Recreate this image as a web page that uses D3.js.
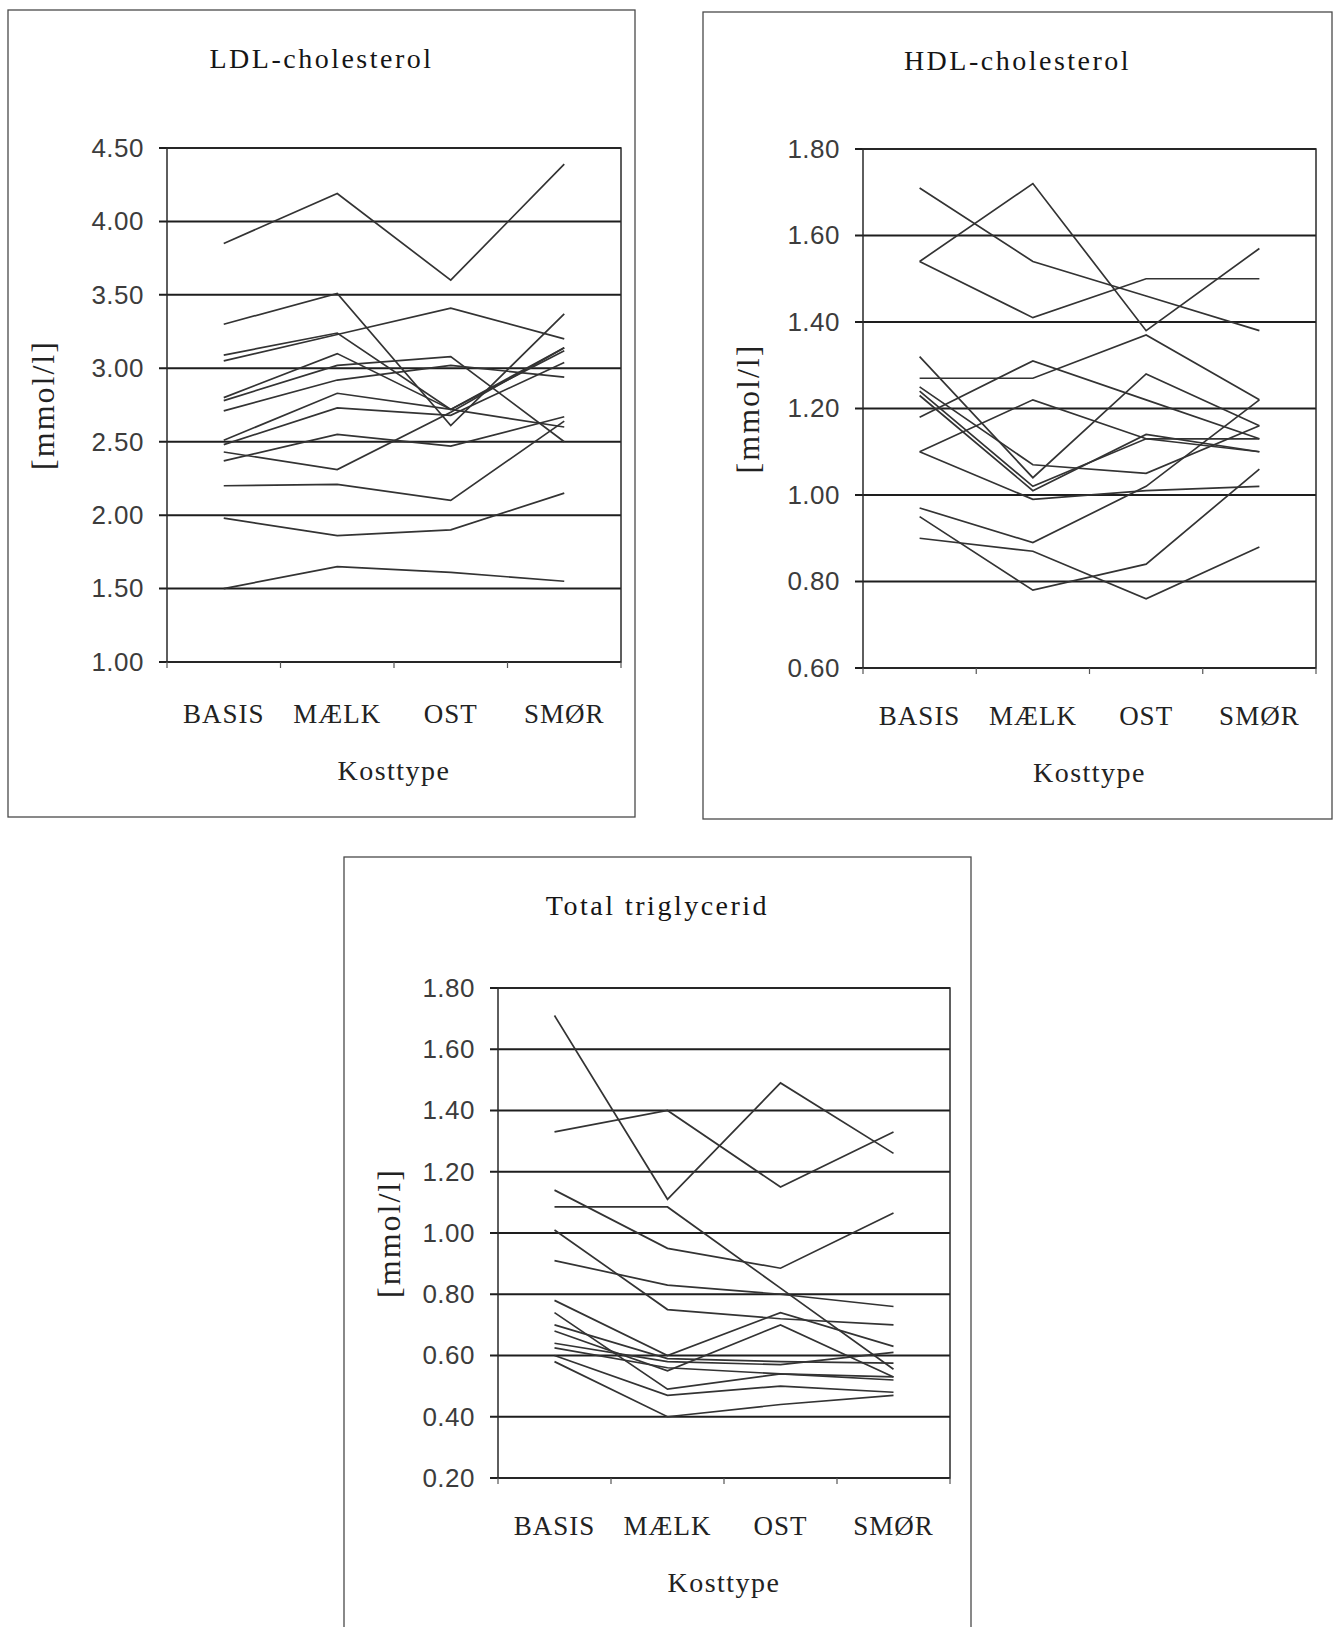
<!DOCTYPE html>
<html>
<head>
<meta charset="utf-8">
<script src="https://cdn.jsdelivr.net/npm/d3@7"></script>
<style>
  html, body { margin: 0; padding: 0; background: #fff; }
  svg { display: block; }
</style>
</head>
<body>
<svg id="chart" width="1334" height="1627"></svg>
<script>
// Diet periods (x categories)
const categories = ["BASIS", "MÆLK", "OST", "SMØR"];

// LDL-cholesterol per subject [mmol/l]
const ldlSeries = [
  [3.85, 4.19, 3.60, 4.39],
  [3.30, 3.51, 2.61, 3.37],
  [3.05, 3.23, 3.41, 3.20],
  [3.09, 3.24, 2.72, 3.14],
  [2.80, 3.10, 2.72, 3.12],
  [2.78, 3.02, 3.08, 2.50],
  [2.71, 2.92, 3.02, 2.94],
  [2.51, 2.83, 2.72, 2.60],
  [2.48, 2.73, 2.68, 3.04],
  [2.43, 2.31, 2.70, 3.14],
  [2.37, 2.55, 2.47, 2.67],
  [2.20, 2.21, 2.10, 2.64],
  [1.98, 1.86, 1.90, 2.15],
  [1.50, 1.65, 1.61, 1.55]
];
const ldlTicks = [1.00, 1.50, 2.00, 2.50, 3.00, 3.50, 4.00, 4.50];

// HDL-cholesterol per subject [mmol/l]
const hdlSeries = [
  [1.71, 1.54, 1.46, 1.38],
  [1.54, 1.72, 1.38, 1.57],
  [1.54, 1.41, 1.50, 1.50],
  [1.27, 1.27, 1.37, 1.22],
  [1.18, 1.31, 1.22, 1.13],
  [1.10, 1.22, 1.13, 1.10],
  [1.10, 0.99, 1.01, 1.02],
  [1.32, 1.04, 1.28, 1.16],
  [0.97, 0.89, 1.02, 1.22],
  [0.95, 0.78, 0.84, 1.06],
  [0.90, 0.87, 0.76, 0.88],
  [1.25, 1.07, 1.05, 1.16],
  [1.24, 1.02, 1.13, 1.13],
  [1.23, 1.01, 1.14, 1.10]
];
const hdlTicks = [0.60, 0.80, 1.00, 1.20, 1.40, 1.60, 1.80];

// Total triglycerid per subject [mmol/l]
const tgSeries = [
  [1.71, 1.11, 1.49, 1.26],
  [1.33, 1.40, 1.15, 1.33],
  [1.14, 0.95, 0.885, 1.065],
  [1.085, 1.085, 0.82, 0.555],
  [1.01, 0.75, 0.72, 0.70],
  [0.91, 0.83, 0.80, 0.76],
  [0.78, 0.60, 0.74, 0.63],
  [0.74, 0.49, 0.54, 0.52],
  [0.70, 0.59, 0.58, 0.575],
  [0.68, 0.55, 0.70, 0.53],
  [0.64, 0.58, 0.57, 0.61],
  [0.625, 0.56, 0.54, 0.53],
  [0.60, 0.47, 0.50, 0.48],
  [0.58, 0.40, 0.44, 0.47]
];
const tgTicks = [0.20, 0.40, 0.60, 0.80, 1.00, 1.20, 1.40, 1.60, 1.80];

const titles = ["LDL-cholesterol", "HDL-cholesterol", "Total triglycerid"];
const yLabel = "[mmol/l]";
const xLabel = "Kosttype";

const SERIF = "'Liberation Serif', 'Times New Roman', serif";
const SANS = "'Liberation Sans', Arial, sans-serif";

const svg = d3.select("#chart");

const panels = [
  { title: titles[0], series: ldlSeries, ticks: ldlTicks,
    frame: { x0: 8, y0: 10, x1: 635, y1: 817 },
    plot: { x0: 167, y0: 148, x1: 621, y1: 662 }, yLabelOffset: 113, catDy: 4 },
  { title: titles[1], series: hdlSeries, ticks: hdlTicks,
    frame: { x0: 703, y0: 12, x1: 1332, y1: 819 },
    plot: { x0: 863, y0: 149, x1: 1316, y1: 668 }, yLabelOffset: 104, catDy: 0 },
  { title: titles[2], series: tgSeries, ticks: tgTicks,
    frame: { x0: 344, y0: 857, x1: 971, y1: 1660 },
    plot: { x0: 498, y0: 988, x1: 950, y1: 1478 }, yLabelOffset: 98, catDy: 0 }
];

panels.forEach(drawPanel);

function drawPanel(p) {
  const g = svg.append("g");
  const f = p.frame, a = p.plot;

  // outer frame
  g.append("rect")
    .attr("x", f.x0).attr("y", f.y0)
    .attr("width", f.x1 - f.x0).attr("height", f.y1 - f.y0)
    .attr("fill", "none").attr("stroke", "#4a4a4a").attr("stroke-width", 1.3);

  // title
  g.append("text")
    .attr("x", (f.x0 + f.x1) / 2).attr("y", f.y0 + 58)
    .attr("text-anchor", "middle")
    .style("font-family", SERIF).style("font-size", "28px")
    .style("letter-spacing", "2.5px").attr("fill", "#151515")
    .text(p.title);

  const x = d3.scaleBand().domain(categories).range([a.x0, a.x1]);
  const y = d3.scaleLinear().domain(d3.extent(p.ticks)).range([a.y1, a.y0]);
  const cx = c => x(c) + x.bandwidth() / 2;

  // horizontal gridlines (extend left as tick marks)
  g.append("g").selectAll("line")
    .data(p.ticks)
    .join("line")
    .attr("x1", a.x0 - 8).attr("x2", a.x1)
    .attr("y1", d => y(d)).attr("y2", d => y(d))
    .attr("stroke", "#1e1e1e").attr("stroke-width", 2);

  // plot area border
  g.append("rect")
    .attr("x", a.x0).attr("y", a.y0)
    .attr("width", a.x1 - a.x0).attr("height", a.y1 - a.y0)
    .attr("fill", "none").attr("stroke", "#2a2a2a").attr("stroke-width", 1.5);

  // y tick labels
  const yAxis = g.append("g")
    .attr("transform", `translate(${a.x0},0)`)
    .call(d3.axisLeft(y).tickValues(p.ticks).tickFormat(d3.format(".2f"))
      .tickSize(0).tickPadding(23));
  yAxis.select(".domain").remove();
  yAxis.selectAll("text")
    .style("font-family", SANS).style("font-size", "26px")
    .style("letter-spacing", "0.5px").attr("fill", "#3c3c3c");

  // category boundary tick marks
  const bounds = categories.map(c => x(c)).concat([a.x1]);
  g.append("g").selectAll("line")
    .data(bounds)
    .join("line")
    .attr("x1", d => d).attr("x2", d => d)
    .attr("y1", a.y1).attr("y2", a.y1 + 6)
    .attr("stroke", "#555").attr("stroke-width", 1.2);

  // category labels
  const xAxis = g.append("g")
    .attr("transform", `translate(0,${a.y1 + p.catDy})`)
    .call(d3.axisBottom(x).tickSize(0).tickPadding(38));
  xAxis.select(".domain").remove();
  xAxis.selectAll("text")
    .style("font-family", SERIF).style("font-size", "27px")
    .style("letter-spacing", "1px").attr("fill", "#222");

  // x axis title
  g.append("text")
    .attr("x", (a.x0 + a.x1) / 2).attr("y", a.y1 + 114 + p.catDy)
    .attr("text-anchor", "middle")
    .style("font-family", SERIF).style("font-size", "28px")
    .style("letter-spacing", "1.5px").attr("fill", "#222")
    .text(xLabel);

  // y axis title
  const ly = (a.y0 + a.y1) / 2;
  const lx = a.x0 - p.yLabelOffset;
  g.append("text")
    .attr("transform", `translate(${lx},${ly}) rotate(-90)`)
    .attr("text-anchor", "middle")
    .style("font-family", SERIF).style("font-size", "32px")
    .style("letter-spacing", "2px").attr("fill", "#222")
    .text(yLabel);

  // subject lines
  const line = d3.line()
    .x((d, i) => cx(categories[i]))
    .y(d => y(d));
  g.append("g").selectAll("path")
    .data(p.series)
    .join("path")
    .attr("d", line)
    .attr("fill", "none")
    .attr("stroke", "#333")
    .attr("stroke-width", 1.7)
    .attr("stroke-linejoin", "miter");
}
</script>
</body>
</html>
